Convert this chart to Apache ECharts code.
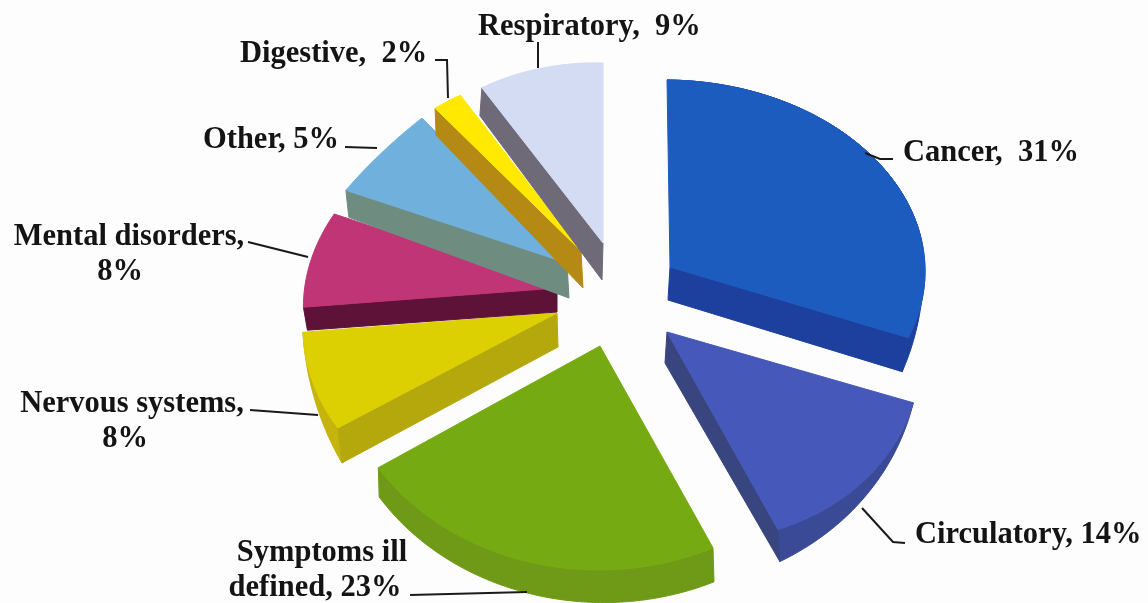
<!DOCTYPE html>
<html>
<head>
<meta charset="utf-8">
<title>Causes</title>
<style>
  html, body { margin: 0; background: #fdfdfd; }
  #main { width: 1148px; height: 603px; }
</style>
<script src="https://cdn.jsdelivr.net/npm/echarts@6/dist/echarts.min.js"></script>
</head>
<body>
<div id="main"></div>
<script>
// clockwise from 12 o'clock
const categories = ['Cancer', 'Circulatory', 'Symptoms ill defined', 'Nervous systems', 'Mental disorders', 'Other', 'Digestive', 'Respiratory'];
const values = [31, 14, 23, 8, 8, 5, 2, 9];
const labelLines = [
  ['Cancer,  31%'],
  ['Circulatory, 14%'],
  ['Symptoms ill', 'defined, 23%'],
  ['Nervous systems,', '8%'],
  ['Mental disorders,', '8%'],
  ['Other, 5%'],
  ['Digestive,  2%'],
  ['Respiratory,  9%']
];
const topColors = ['#1d5cbf', '#4658b9', '#76aa12', '#dccf02', '#c03576', '#6fb1dc', '#ffe900', '#d3dcf3'];
const sideColors = ['#1d3f9e', '#39457f', '#6f9a17', '#b5a80c', '#5e1238', '#6f8c80', '#b58a14', '#6e6a78'];
const wallColors = ['#1d3f9e', '#3a4a96', '#6f9a17', '#c4b40c', '#5e1238', '#6f8c80', '#b58a14', '#6e6a78'];

// each slice sits exploded on its own tilted plane: apex, then the projection of the unit disc
const planes = [
  { apex: [670, 267], rx: 255, hx: -3,  ry: 187, vy: 2,   apexDrop: [-2, 33], rimDrop: [-6, 34], side: 'end',   wall: [-2.5, 1] },
  { apex: [667, 332], rx: 251, hx: -35, ry: 210, vy: -7,  apexDrop: [-2, 31], rimDrop: [2, 32],  side: 'end',   wall: [0, 1] },
  { apex: [600, 346], rx: 261, hx: -34, ry: 222, vy: -30, apexDrop: [0, 0],   rimDrop: [1, 34],  side: null,    wall: [1, 0.86] },
  { apex: [557, 313], rx: 253, hx: -23, ry: 202, vy: -32, apexDrop: [1, 34],  rimDrop: [4, 35],  side: 'start', wall: [1, 0] },
  { apex: [557, 288], rx: 253, hx: -17, ry: 187, vy: -31, apexDrop: [0, 24],  rimDrop: [4, 23],  side: 'start', wall: null },
  { apex: [567, 263], rx: 300, hx: 60,  ry: 246, vy: -70, apexDrop: [2, 35],  rimDrop: [3, 27],  side: 'start', wall: null },
  { apex: [581, 251], rx: 241, hx: 10,  ry: 182, vy: 4,   apexDrop: [2, 37],  rimDrop: [1, 27],  side: 'start', wall: null },
  { apex: [603, 243], rx: 226, hx: 0,   ry: 180, vy: 6,   apexDrop: [-1, 37], rimDrop: [-2, 28], side: 'start', wall: null }
];

const labelStyle = [
  { x: 903, y: 153, align: 'left' },
  { x: 915, y: 535, align: 'left' },
  { x: 322, y: 553, align: 'center', x2: 315 },
  { x: 132, y: 404, align: 'center', x2: 125 },
  { x: 129, y: 237, align: 'center', x2: 120 },
  { x: 203, y: 140, align: 'left' },
  { x: 240, y: 54,  align: 'left' },
  { x: 478, y: 27,  align: 'left' }
];
const leaders = [
  [[893, 159], [880, 159], [865, 153]],
  [[905, 543], [893, 542], [862, 508]],
  [[410, 595], [527, 592]],
  [[250, 410], [318, 415]],
  [[248, 242], [308, 257]],
  [[345, 147], [377, 148]],
  [[435, 60], [447, 60], [448, 98]],
  [[538, 42], [538, 68]]
];

const total = values.reduce((a, b) => a + b, 0);
const startAngles = [];
values.reduce((sum, v, i) => { startAngles[i] = sum / total * 360; return sum + v; }, 0);

function project(p, deg) {
  const t = deg * Math.PI / 180;
  const X = Math.sin(t), Y = Math.cos(t);
  return [p.apex[0] + p.rx * X + p.hx * Y, p.apex[1] - p.ry * Y + p.vy * X];
}
function shift(pt, d, k) { return [pt[0] + d[0] * k, pt[1] + d[1] * k]; }

function renderSlice(params, api) {
  const i = params.dataIndex;
  const p = planes[i];
  const from = startAngles[i];
  const to = from + api.value(0) / total * 360;
  const arc = [];
  const steps = Math.max(4, Math.round((to - from) / 1.5));
  for (let s = 0; s <= steps; s++) arc.push(project(p, from + (to - from) * s / steps));

  const children = [];
  if (p.wall) {
    const under = arc.map((pt, s) => shift(pt, p.rimDrop, Math.max(0, p.wall[0] + (p.wall[1] - p.wall[0]) * s / steps)));
    children.push({
      type: 'polygon',
      shape: { points: arc.concat(under.reverse()) },
      style: { fill: wallColors[i], stroke: wallColors[i], lineWidth: 1 }
    });
  }
  if (p.side) {
    const rim = p.side === 'start' ? arc[0] : arc[steps];
    children.push({
      type: 'polygon',
      shape: { points: [p.apex, rim, shift(rim, p.rimDrop, 1), shift(p.apex, p.apexDrop, 1)] },
      style: { fill: sideColors[i], stroke: sideColors[i], lineWidth: 1 }
    });
  }
  children.push({
    type: 'polygon',
    shape: { points: [p.apex].concat(arc) },
    style: { fill: topColors[i], stroke: topColors[i], lineWidth: 1 }
  });
  children.push({
    type: 'polyline',
    shape: { points: leaders[i] },
    style: { fill: null, stroke: '#1a1a1a', lineWidth: 2 }
  });
  const ls = labelStyle[i];
  labelLines[i].forEach((line, n) => {
    children.push({
      type: 'text',
      style: {
        text: line,
        x: n === 0 ? ls.x : ls.x2,
        y: ls.y + n * 35,
        textAlign: ls.align,
        textVerticalAlign: 'middle',
        fill: '#141414',
        font: 'bold 30.5px "Liberation Serif"'
      }
    });
  });
  return { type: 'group', children: children };
}

const chart = echarts.init(document.getElementById('main'));
chart.setOption({
  backgroundColor: '#fdfdfd',
  animation: false,
  series: [{
    type: 'custom',
    coordinateSystem: 'none',
    renderItem: renderSlice,
    data: values.map((v, i) => ({ name: categories[i], value: [v] }))
  }]
});
</script>
</body>
</html>
